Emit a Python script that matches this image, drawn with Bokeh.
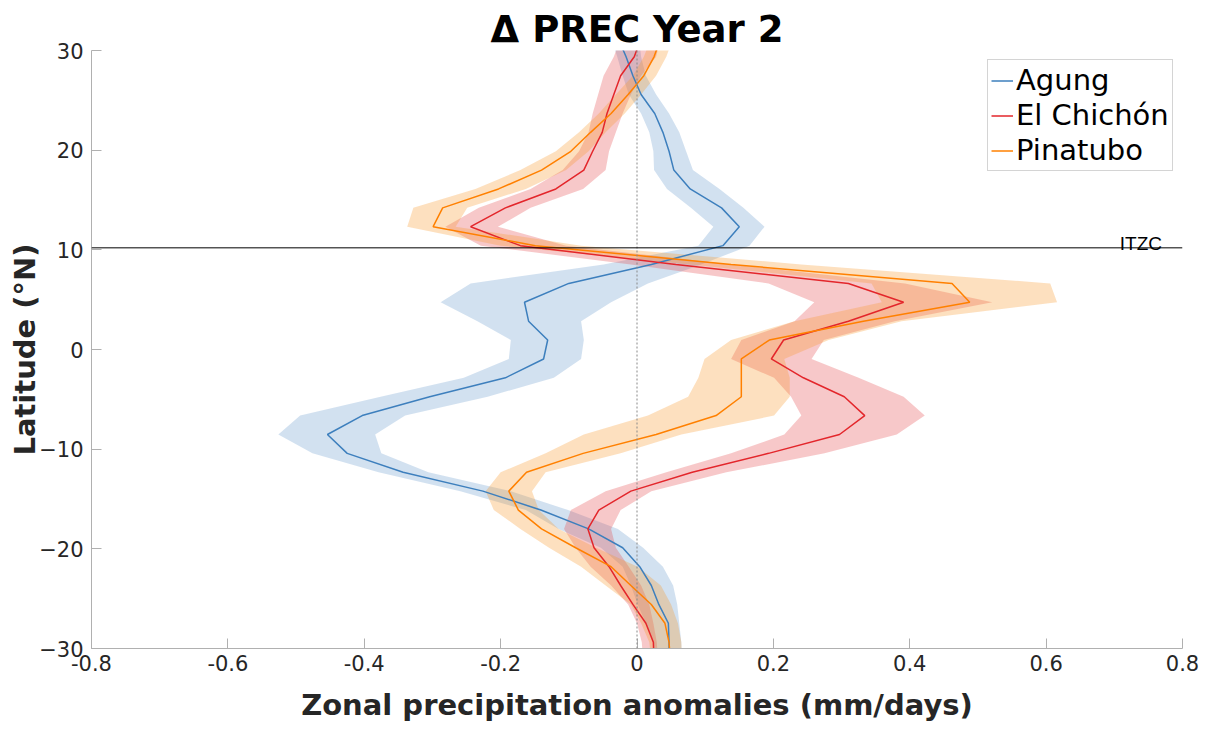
from bokeh.plotting import figure
from bokeh.models import Span, Label, Legend, LegendItem, FixedTicker
from bokeh.embed import file_html
from bokeh.resources import INLINE

# Latitude grid (deg N)
lat = [31.26, 29.37, 27.47, 25.58, 23.68, 21.79, 19.89, 18.0, 16.11, 14.21, 12.32, 10.42,
       8.53, 6.63, 4.74, 2.84, 0.95, -0.95, -2.84, -4.74, -6.63, -8.53, -10.42, -12.32,
       -14.21, -16.11, -18.0, -19.89, -21.79, -23.68, -25.58, -27.47, -29.37, -31.26]

agung = [-0.028, -0.016, -0.006, 0.006, 0.026, 0.038, 0.047, 0.054, 0.078, 0.124, 0.150, 0.126,
         0.021, -0.100, -0.165, -0.159, -0.131, -0.137, -0.193, -0.304, -0.403, -0.454, -0.425, -0.343,
         -0.226, -0.141, -0.071, -0.021, 0.004, 0.021, 0.032, 0.046, 0.047, 0.047]
agung_lo = [-0.038, -0.029, -0.021, -0.012, 0.006, 0.018, 0.024, 0.025, 0.044, 0.079, 0.112, 0.090,
            -0.049, -0.244, -0.288, -0.234, -0.185, -0.188, -0.254, -0.376, -0.494, -0.526, -0.476, -0.379,
            -0.259, -0.163, -0.115, -0.053, -0.021, -0.009, 0.001, 0.013, 0.024, 0.026]
agung_hi = [0.003, 0.006, 0.013, 0.028, 0.047, 0.062, 0.072, 0.082, 0.121, 0.156, 0.187, 0.165,
            0.094, 0.016, -0.038, -0.082, -0.078, -0.082, -0.122, -0.219, -0.340, -0.384, -0.375, -0.306,
            -0.185, -0.101, -0.028, 0.009, 0.038, 0.053, 0.059, 0.062, 0.065, 0.066]

chichon = [0.006, -0.004, -0.024, -0.034, -0.044, -0.051, -0.065, -0.078, -0.119, -0.193, -0.244, -0.171,
           0.057, 0.310, 0.391, 0.310, 0.215, 0.197, 0.244, 0.304, 0.334, 0.297, 0.193, 0.081,
           -0.009, -0.056, -0.072, -0.063, -0.041, -0.024, -0.006, 0.013, 0.024, 0.025]
chichon_lo = [-0.024, -0.034, -0.049, -0.057, -0.065, -0.071, -0.085, -0.109, -0.156, -0.232, -0.281, -0.229,
              -0.009, 0.193, 0.260, 0.231, 0.153, 0.138, 0.201, 0.226, 0.241, 0.216, 0.138, 0.043,
              -0.046, -0.097, -0.107, -0.090, -0.068, -0.038, -0.013, 0.000, 0.007, 0.009]
chichon_hi = [0.035, 0.028, 0.006, -0.009, -0.021, -0.031, -0.041, -0.046, -0.079, -0.156, -0.204, -0.104,
              0.138, 0.393, 0.521, 0.378, 0.274, 0.256, 0.325, 0.391, 0.422, 0.381, 0.275, 0.131,
              0.021, -0.024, -0.038, -0.031, -0.012, 0.006, 0.018, 0.024, 0.029, 0.031]

pinatubo = [0.035, 0.025, 0.010, -0.013, -0.038, -0.068, -0.097, -0.140, -0.203, -0.285, -0.299, -0.149,
            0.138, 0.462, 0.488, 0.332, 0.194, 0.153, 0.153, 0.153, 0.116, 0.028, -0.079, -0.162,
            -0.188, -0.174, -0.140, -0.090, -0.038, -0.009, 0.021, 0.041, 0.047, 0.049]
pinatubo_lo = [0.021, 0.010, -0.006, -0.031, -0.056, -0.085, -0.119, -0.171, -0.237, -0.328, -0.337, -0.200,
               0.079, 0.344, 0.359, 0.231, 0.138, 0.099, 0.090, 0.075, 0.016, -0.078, -0.134, -0.200,
               -0.222, -0.210, -0.171, -0.129, -0.082, -0.046, -0.009, 0.006, 0.018, 0.021]
pinatubo_hi = [0.053, 0.043, 0.028, 0.006, -0.018, -0.046, -0.071, -0.104, -0.163, -0.249, -0.266, -0.082,
               0.241, 0.606, 0.616, 0.388, 0.281, 0.216, 0.224, 0.224, 0.201, 0.065, -0.024, -0.134,
               -0.154, -0.144, -0.115, -0.060, 0.001, 0.035, 0.050, 0.060, 0.065, 0.066]

series_names = ["Agung", "El Chichón", "Pinatubo"]
x_ticks = [-0.8, -0.6, -0.4, -0.2, 0, 0.2, 0.4, 0.6, 0.8]
x_tick_labels = ["-0.8", "-0.6", "-0.4", "-0.2", "0", "0.2", "0.4", "0.6", "0.8"]
y_ticks = [-30, -20, -10, 0, 10, 20, 30]
itcz_lat = 10.2
itcz_label_x = 0.708
itcz_label_y = 10.6

FONT = "DejaVu Sans"

p = figure(width=1205, height=726, x_range=(-0.8, 0.8), y_range=(-30, 30),
           output_backend="svg", toolbar_location=None,
           min_border_left=91, min_border_right=23, min_border_top=50, min_border_bottom=78)
p.background_fill_color = "white"
p.border_fill_color = "white"
p.outline_line_color = None
p.xgrid.visible = False
p.ygrid.visible = False

p.title.text = "Δ PREC Year 2"
p.title.align = "center"
p.title.text_font = FONT
p.title.text_font_size = "37px"
p.title.text_font_style = "bold"
p.title.text_color = "black"
p.title.standoff = 0

# shaded spreads
band_fill = ["#6a9bcd", "#e5484d", "#f8982a"]
line_col = ["#3d7fbd", "#e3262b", "#ff8000"]
data = [(agung, agung_lo, agung_hi), (chichon, chichon_lo, chichon_hi), (pinatubo, pinatubo_lo, pinatubo_hi)]

for (m, lo, hi), fc in zip(data, band_fill):
    p.harea(y=lat, x1=lo, x2=hi, fill_color=fc, fill_alpha=0.3)

# zero line
p.add_layout(Span(location=0, dimension="height", line_color="#888888",
                  line_dash="2 2", line_width=1))
# ITCZ line
p.add_layout(Span(location=itcz_lat, dimension="width", line_color="black", line_width=1))
p.add_layout(Label(x=itcz_label_x, y=itcz_label_y, text="ITZC", text_font="Liberation Sans",
                   text_font_size="19px", text_color="black", text_baseline="alphabetic"))

lines = []
for (m, lo, hi), lc in zip(data, line_col):
    r = p.line(x=m, y=lat, line_color=lc, line_width=1.5)
    lines.append(r)

legend = Legend(items=[LegendItem(label=n, renderers=[r]) for n, r in zip(series_names, lines)],
                location=(896, 477))
legend.label_text_font = FONT
legend.label_text_font_size = "29px"
legend.label_text_color = "black"
legend.glyph_width = 22
legend.glyph_height = 33
legend.label_height = 33
legend.label_standoff = 3
legend.spacing = 1
legend.padding = 3
legend.margin = 0
legend.border_line_color = "#aaaaaa"
legend.border_line_width = 1
legend.background_fill_color = "white"
legend.background_fill_alpha = 1
p.add_layout(legend, "center")

# axes
for ax in (p.xaxis[0], p.yaxis[0]):
    ax.axis_line_color = "#b0b0b0"
    ax.major_tick_line_color = "#b0b0b0"
    ax.major_tick_in = 10
    ax.major_tick_out = 0
    ax.minor_tick_line_color = None
    ax.major_label_text_font = FONT
    ax.major_label_text_font_size = "21px"
    ax.major_label_text_color = "#262626"
    ax.axis_label_text_font = FONT
    ax.axis_label_text_font_size = "29px"
    ax.axis_label_text_font_style = "bold"
    ax.axis_label_text_color = "#262626"

p.xaxis.ticker = FixedTicker(ticks=x_ticks)
p.xaxis.major_label_overrides = {t: s for t, s in zip(x_ticks, x_tick_labels)}
p.xaxis.major_label_standoff = 6
p.xaxis.axis_label = "Zonal precipitation anomalies (mm/days)"
p.xaxis.axis_label_standoff = 14
p.yaxis.ticker = FixedTicker(ticks=y_ticks)
p.yaxis.major_label_standoff = 8
p.yaxis.axis_label = "Latitude (°N)"
p.yaxis.axis_label_standoff = -6

open("out.html", "w").write(file_html(p, INLINE))
